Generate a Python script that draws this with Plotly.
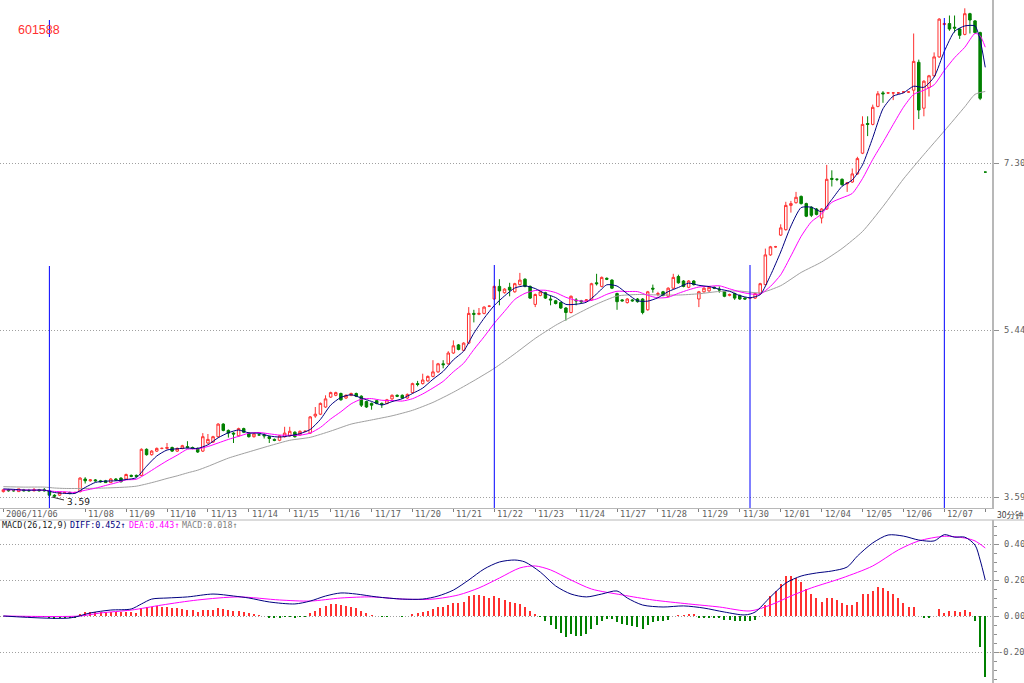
import plotly.graph_objects as go

# ---------------- data (30-minute bars, 601588) ----------------
BARS = list(range(193))

OPEN = [3.65,3.67,3.66,3.65,3.67,3.66,3.66,3.67, 3.67,3.66,3.61,3.61,3.64,3.64,3.64,3.65,
        3.79,3.77,3.78,3.77,3.77,3.75,3.79,3.80, 3.79,3.83,3.83,3.83,4.12,4.06,4.10,4.13,
        4.13,4.14,4.10,4.13,4.15,4.14,4.13,4.10, 4.19,4.20,4.26,4.40,4.33,4.30,4.27,4.35,
        4.30,4.26,4.28,4.28,4.26,4.23,4.22,4.26, 4.27,4.31,4.28,4.32,4.30,4.49,4.51,4.59,
        4.70,4.72,4.74,4.69,4.72,4.74,4.71,4.65, 4.63,4.66,4.63,4.63,4.68,4.72,4.72,4.69,
        4.75,4.85,4.85,4.88,4.93,4.98,5.07,5.07, 5.19,5.28,5.22,5.30,5.63,5.62,5.63,5.71,
        5.79,5.93,5.86,5.92,5.87,5.95,6.01,5.93, 5.73,5.83,5.86,5.79,5.77,5.75,5.69,5.64,
        5.78,5.77,5.77,5.78,5.97,5.93,6.02,6.00, 5.85,5.78,5.75,5.78,5.79,5.79,5.67,5.91,
        5.84,5.87,5.82,5.91,6.04,5.99,5.92,5.99, 5.79,5.87,5.88,5.92,5.90,5.87,5.83,5.85,
        5.83,5.80,5.80,5.80,5.85,5.95,6.28,6.37, 6.50,6.56,6.83,6.86,6.93,6.85,6.81,6.79,
        6.69,6.79,7.13,7.12,7.12,7.07,7.09,7.18, 7.41,7.74,7.73,7.93,8.08,8.08,8.08,8.08,
        8.09,8.09,8.11,8.42,7.91,8.14,8.27,8.48, 8.84,8.85,8.81,8.79,8.73,8.96,8.88,8.75,
        7.20]
HIGH = [3.68,3.68,3.67,3.68,3.68,3.68,3.69,3.68, 3.69,3.67,3.62,3.65,3.65,3.65,3.65,3.81,
        3.81,3.79,3.79,3.78,3.78,3.80,3.80,3.81, 3.85,3.84,3.84,4.13,4.13,4.11,4.14,4.14,
        4.19,4.15,4.14,4.17,4.21,4.15,4.14,4.30, 4.29,4.27,4.41,4.41,4.34,4.31,4.36,4.36,
        4.31,4.30,4.29,4.30,4.27,4.24,4.28,4.37, 4.37,4.32,4.33,4.33,4.49,4.59,4.64,4.72,
        4.76,4.76,4.75,4.73,4.75,4.75,4.72,4.66, 4.64,4.67,4.64,4.68,4.73,4.73,4.73,4.74,
        4.86,4.88,4.96,4.94,5.11,5.08,5.11,5.21, 5.33,5.29,5.31,5.70,5.67,5.69,5.71,5.72,
        5.94,6.01,5.91,5.97,5.97,6.08,6.02,5.94, 5.85,5.88,5.87,5.83,5.78,5.76,5.70,5.83,
        5.80,5.78,5.79,5.97,6.07,6.04,6.03,6.01, 5.86,5.79,5.80,5.79,5.80,5.80,5.88,5.95,
        5.87,5.88,5.92,6.07,6.06,6.00,6.00,6.00, 5.88,5.92,5.93,5.93,5.93,5.88,5.85,5.86,
        5.84,5.81,5.81,5.86,5.97,6.35,6.38,6.38, 6.62,6.87,6.88,6.98,6.94,6.86,6.82,6.80,
        6.80,7.28,7.22,7.13,7.13,7.09,7.24,7.37, 7.82,7.82,7.95,8.10,8.10,8.09,8.09,8.09,
        8.10,8.10,8.74,8.45,8.22,8.28,8.53,8.91, 8.86,8.94,8.94,8.80,9.02,8.97,8.89,8.76,
        7.20]
LOW = [3.64,3.65,3.65,3.65,3.65,3.65,3.65,3.65, 3.65,3.59,3.59,3.60,3.63,3.62,3.63,3.64,
       3.74,3.76,3.76,3.75,3.75,3.75,3.77,3.75, 3.78,3.81,3.81,3.82,4.05,4.05,4.09,4.12,
       4.12,4.09,4.09,4.12,4.13,4.12,4.08,4.09, 4.18,4.19,4.25,4.32,4.25,4.19,4.26,4.30,
       4.25,4.25,4.27,4.24,4.19,4.21,4.21,4.25, 4.26,4.25,4.27,4.31,4.29,4.47,4.50,4.58,
       4.69,4.71,4.66,4.68,4.71,4.70,4.59,4.58, 4.56,4.62,4.58,4.62,4.67,4.70,4.68,4.68,
       4.74,4.82,4.84,4.87,4.92,4.97,5.02,5.06, 5.18,5.22,5.21,5.29,5.53,5.61,5.62,5.70,
       5.78,5.72,5.85,5.82,5.86,5.94,5.92,5.79, 5.70,5.82,5.79,5.72,5.73,5.68,5.55,5.63,
       5.72,5.74,5.76,5.77,5.94,5.92,6.00,5.90, 5.67,5.76,5.74,5.76,5.75,5.62,5.66,5.86,
       5.82,5.82,5.81,5.90,5.96,5.92,5.91,5.94, 5.70,5.86,5.87,5.90,5.86,5.81,5.82,5.78,
       5.78,5.78,5.79,5.79,5.84,5.94,6.27,6.36, 6.49,6.55,6.75,6.85,6.84,6.70,6.70,6.72,
       6.63,6.78,7.04,7.10,7.05,6.98,7.08,7.17, 7.40,7.60,7.72,7.92,7.97,8.07,8.00,8.07,
       8.08,8.08,7.67,7.79,7.82,8.04,8.26,8.47, 8.83,8.77,8.75,8.68,8.72,8.74,8.74,8.00,
       7.20]
CLOSE = [3.67,3.66,3.66,3.68,3.66,3.66,3.67,3.66, 3.66,3.61,3.60,3.64,3.64,3.63,3.64,3.80,
         3.77,3.78,3.77,3.76,3.75,3.79,3.78,3.76, 3.84,3.82,3.82,4.12,4.06,4.10,4.13,4.13,
         4.14,4.10,4.13,4.16,4.14,4.13,4.09,4.26, 4.23,4.26,4.40,4.33,4.30,4.29,4.35,4.31,
         4.26,4.29,4.28,4.27,4.24,4.22,4.27,4.30, 4.32,4.26,4.32,4.32,4.48,4.51,4.63,4.68,
         4.75,4.75,4.67,4.72,4.74,4.71,4.61,4.59, 4.61,4.63,4.62,4.67,4.72,4.71,4.69,4.73,
         4.85,4.84,4.89,4.93,4.98,5.07,5.06,5.19, 5.27,5.23,5.30,5.63,5.62,5.63,5.70,5.71,
         5.93,5.88,5.90,5.89,5.96,6.00,5.93,5.80, 5.84,5.87,5.80,5.78,5.74,5.69,5.64,5.82,
         5.77,5.76,5.78,5.96,5.96,6.03,6.01,5.91, 5.76,5.77,5.79,5.77,5.76,5.64,5.87,5.90,
         5.85,5.83,5.91,6.03,5.97,5.93,5.99,5.95, 5.87,5.91,5.92,5.91,5.89,5.82,5.84,5.80,
         5.79,5.79,5.80,5.85,5.96,6.28,6.37,6.37, 6.58,6.83,6.85,6.92,6.85,6.71,6.72,6.73,
         6.79,7.12,7.12,7.12,7.06,7.08,7.18,7.35, 7.73,7.73,7.92,8.07,8.07,8.08,8.08,8.08,
         8.09,8.09,8.43,7.89,8.21,8.27,8.48,8.90, 8.85,8.79,8.80,8.72,8.96,8.89,8.75,8.02,
         7.20]

# moving-average lines (bar index, value)
MA5_AT = list(range(0, 191, 2)) + [191, 192]
MA5 = [3.68,3.675,3.666,3.666,3.666,3.64,3.63,3.63,3.696,3.752,3.766,3.77,3.784,3.804,3.932,4.046,
       4.112,4.126,4.134,4.13,4.17,4.248,4.304,4.334,4.302,4.298,4.268,4.256,4.27,4.294,4.34,4.452,
       4.611,4.697,4.726,4.69,4.652,4.612,4.65,4.682,4.74,4.80,4.898,4.986,5.114,5.21,5.41,5.576,
       5.718,5.824,5.912,5.936,5.906,5.848,5.806,5.73,5.732,5.754,5.846,5.948,5.934,5.848,5.77,5.766,
       5.804,5.872,5.918,5.966,5.942,5.928,5.90,5.876,5.828,5.804,5.838,6.052,6.312,6.60,6.806,6.81,
       6.76,6.896,7.042,7.112,7.28,7.582,7.904,8.044,8.08,8.154,8.142,8.256,8.542,8.764,8.824,8.824,
       8.668,8.364]
MA10_AT = [0, 4, 8] + list(range(10, 191, 2)) + [191, 192]
MA10 = [3.67,3.668,3.665,3.652,3.648,3.641,3.665,3.688,3.718,3.747,3.78,3.787,3.85,3.922,3.992,4.055,
        4.121,4.125,4.151,4.19,4.23,4.264,4.299,4.307,4.292,4.278,4.276,4.277,4.30,4.363,4.457,4.537,
        4.625,4.677,4.683,4.665,4.662,4.656,4.682,4.735,4.801,4.875,4.981,5.076,5.228,5.37,5.521,5.653,
        5.785,5.853,5.884,5.887,5.861,5.809,5.775,5.765,5.79,5.842,5.876,5.873,5.872,5.831,5.802,5.809,
        5.853,5.892,5.923,5.931,5.937,5.903,5.87,5.847,5.845,5.93,6.059,6.268,6.486,6.648,6.735,6.864,
        6.914,6.963,7.128,7.341,7.531,7.729,7.92,8.064,8.109,8.17,8.329,8.471,8.587,8.741,8.716,8.588]
MA30_AT = [0,4,8,10,12,16,20,24,26,28,30,32,34,36,38,40] + list(range(44, 189, 4)) + [190, 192]
MA30 = [3.705,3.70,3.70,3.69,3.685,3.685,3.69,3.70,3.71,3.735,3.764,3.796,3.825,3.858,3.888,3.93,
        4.022,4.091,4.158,4.22,4.253,4.322,4.40,4.446,4.492,4.553,4.641,4.754,4.882,5.019,5.181,5.352,
        5.498,5.619,5.733,5.823,5.84,5.835,5.834,5.848,5.874,5.878,5.859,5.938,6.085,6.201,6.351,6.54,
        6.818,7.123,7.395,7.657,7.926,8.064,8.096]

# MACD(26,12,9)
DIFF_AT = [0,13,17,21,25,27,29,32,36,41,45,48,52,57,60,63,66,69,73,78,82,85,88,91,94,97,100,102,
           105,108,111,114,117,120,122,125,129,133,137,141,145,147,150,153,156,159,162,165,167,170,
           173,176,179,182,184,186,188,190,191,192]
DIFF = [0.0,-0.011,0.017,0.033,0.039,0.067,0.094,0.10,0.106,0.122,0.111,0.10,0.078,0.067,0.083,0.111,
        0.128,0.122,0.106,0.094,0.094,0.111,0.144,0.20,0.261,0.30,0.311,0.30,0.244,0.167,0.122,0.106,
        0.122,0.139,0.10,0.061,0.05,0.056,0.044,0.022,0.006,0.022,0.106,0.183,0.222,0.239,0.25,0.272,
        0.333,0.406,0.45,0.444,0.422,0.417,0.452,0.438,0.438,0.394,0.311,0.20]
DEA_AT = [0,15,19,25,31,38,46,54,60,66,72,78,84,89,93,97,101,104,107,111,115,121,127,134,140,146,
          150,154,158,164,170,175,179,184,188,190,192]
DEA = [0.0,0.0,0.017,0.033,0.061,0.089,0.106,0.089,0.083,0.10,0.106,0.094,0.094,0.117,0.156,0.211,
       0.267,0.278,0.256,0.20,0.15,0.117,0.089,0.067,0.05,0.028,0.061,0.111,0.156,0.211,0.278,0.367,
       0.417,0.443,0.433,0.417,0.378]
MACD_BAR = [0.0,0.0,-0.002,0.0,-0.003,-0.002,-0.003,-0.003,
            -0.004,-0.01,-0.015,-0.012,-0.012,-0.012,-0.01,0.01,
            0.02,0.025,0.025,0.024,0.022,0.024,0.022,0.02,
            0.022,0.02,0.018,0.045,0.05,0.052,0.055,0.052,
            0.05,0.045,0.042,0.04,0.036,0.032,0.025,0.035,
            0.035,0.035,0.045,0.04,0.035,0.03,0.03,0.025,
            0.015,0.01,0.005,0.0,-0.008,-0.012,-0.01,-0.005,
            -0.002,-0.006,-0.004,-0.004,0.015,0.03,0.045,0.055,
            0.065,0.068,0.06,0.055,0.05,0.042,0.028,0.015,
            0.005,0.0,-0.005,-0.004,0.0,0.0,-0.002,0.0,
            0.012,0.015,0.022,0.03,0.038,0.048,0.05,0.062,
            0.072,0.075,0.08,0.11,0.118,0.115,0.11,0.102,
            0.11,0.1,0.09,0.078,0.07,0.065,0.05,0.03,
            0.01,-0.005,-0.03,-0.05,-0.07,-0.095,-0.115,-0.1,
            -0.11,-0.11,-0.1,-0.07,-0.05,-0.03,-0.015,-0.015,
            -0.035,-0.045,-0.05,-0.055,-0.06,-0.07,-0.05,-0.035,
            -0.03,-0.028,-0.02,0.0,0.005,0.005,0.01,0.008,
            -0.01,-0.01,-0.008,-0.01,-0.012,-0.02,-0.022,-0.028,
            -0.03,-0.03,-0.028,-0.02,0.0,0.06,0.11,0.14,
            0.18,0.22,0.22,0.21,0.19,0.15,0.12,0.1,
            0.08,0.1,0.1,0.09,0.07,0.06,0.06,0.08,
            0.12,0.12,0.14,0.16,0.155,0.14,0.12,0.1,
            0.07,0.05,0.05,0.0,-0.01,-0.01,0.0,0.04,
            0.018,0.03,0.03,0.025,0.035,0.02,-0.03,-0.17,
            -0.34]

DAY_AT = [0,16,24,32,40,48,56,64,72,80,88,96,104,112,120,128,136,144,152,160,168,176,184]
DAY_LABELS = ["2006/11/06","11/08","11/09","11/10","11/13","11/14","11/15","11/16","11/17",
              "11/20","11/21","11/22","11/23","11/24","11/27","11/28","11/29","11/30",
              "12/01","12/04","12/05","12/06","12/07"]
PRICE_TICKS = [3.59, 5.445, 7.30]
PRICE_TICK_TEXT = ["3.59", "5.44", "7.30"]
MACD_TICKS = [0.4, 0.2, 0.0, -0.2]
MACD_TICK_TEXT = ["0.40", "0.20", "0.00", "-0.20"]
CURSOR_BARS = [96, 146, 184]
LOW_MARK_BAR = 9

# ---------------- style / geometry ----------------
W, H = 1024, 683
RED = "#FF3030"
GREEN = "#008000"
NAVY = "#000080"
MAGENTA = "#FF00FF"
GREY_MA = "#A0A0A0"
AXIS = "#B8B8B8"
GRID = "#A0A0A0"
TXT = "#606060"
MONO = "DejaVu Sans Mono"
DOTS = "1px,2px"

PLOT_R = 992      # px, right axis
MAIN_B = 508      # px, bottom of price pane
MACD_T = 520      # px, top of MACD pane


def px_x(p):
    return p / W


def px_y(p):
    return (H - p) / H


# price scale: 3.59 at y=497, 90 px per 1.00
P_TOP = 3.59 + 497 / 90.0
P_BOT = 3.59 - (MAIN_B - 497) / 90.0
# MACD scale: 0 at y=616, 180 px per 1.00
M_TOP = (616 - MACD_T) / 180.0
M_BOT = (616 - H) / 180.0
# bar scale: bar i at 3.36 + 5.114*i px
X_LO = (0 - 3.36) / 5.114
X_HI = (PLOT_R - 3.36) / 5.114

fig = go.Figure()

fig.add_trace(go.Candlestick(
    x=BARS, open=OPEN, high=HIGH, low=LOW, close=CLOSE,
    increasing=dict(line=dict(color=RED, width=1), fillcolor="white"),
    decreasing=dict(line=dict(color=GREEN, width=1), fillcolor=GREEN),
    whiskerwidth=0, showlegend=False, hoverinfo="skip", xaxis="x", yaxis="y"))

for xs, ys, col in [(MA30_AT, MA30, GREY_MA), (MA10_AT, MA10, MAGENTA), (MA5_AT, MA5, NAVY)]:
    fig.add_trace(go.Scatter(x=xs, y=ys, mode="lines", line=dict(color=col, width=1, shape="spline", smoothing=0.6),
                             showlegend=False, hoverinfo="skip", xaxis="x", yaxis="y"))

fig.add_trace(go.Bar(x=BARS, y=MACD_BAR, width=0.2,
                     marker=dict(color=[RED if v > 0 else GREEN for v in MACD_BAR], line=dict(width=0)),
                     showlegend=False, hoverinfo="skip", xaxis="x2", yaxis="y2"))
fig.add_trace(go.Scatter(x=DEA_AT, y=DEA, mode="lines", line=dict(color=MAGENTA, width=1, shape="spline", smoothing=0.8),
                         showlegend=False, hoverinfo="skip", xaxis="x2", yaxis="y2"))
fig.add_trace(go.Scatter(x=DIFF_AT, y=DIFF, mode="lines", line=dict(color=NAVY, width=1, shape="spline", smoothing=0.8),
                         showlegend=False, hoverinfo="skip", xaxis="x2", yaxis="y2"))

shapes = []
# bottom border of the date strip
shapes.append(dict(type="line", xref="paper", yref="paper", x0=0, x1=1, y0=px_y(MACD_T), y1=px_y(MACD_T),
                   line=dict(color=AXIS, width=1)))
# cursor lines
for b in CURSOR_BARS:
    top = 18 if b == 184 else 265
    shapes.append(dict(type="line", xref="x", yref="paper", x0=b, x1=b, y0=px_y(MAIN_B), y1=px_y(top),
                       line=dict(color="#0000FF", width=1)))
shapes.append(dict(type="line", xref="x", yref="paper", x0=LOW_MARK_BAR, x1=LOW_MARK_BAR,
                   y0=px_y(MAIN_B), y1=px_y(266), line=dict(color="#0000FF", width=1)))
shapes.append(dict(type="line", xref="x", yref="paper", x0=LOW_MARK_BAR, x1=LOW_MARK_BAR,
                   y0=px_y(37), y1=px_y(20), line=dict(color="#0000FF", width=1)))
# leader to low label
shapes.append(dict(type="line", xref="paper", yref="paper", x0=px_x(52), x1=px_x(64),
                   y0=px_y(497), y1=px_y(500), line=dict(color="#303030", width=1)))

ann = []
ann.append(dict(text="601588", x=px_x(16), y=px_y(30), xref="paper", yref="paper", xanchor="left",
                yanchor="middle", showarrow=False, font=dict(family="Liberation Sans", size=12.5, color=RED)))
ann.append(dict(text="3.59", x=px_x(65), y=px_y(501), xref="paper", yref="paper", xanchor="left",
                yanchor="middle", showarrow=False, font=dict(family=MONO, size=9.5, color="#202020")))
for b, lab in zip(DAY_AT, DAY_LABELS):
    ann.append(dict(text=lab, x=b, y=px_y(514), xref="x", yref="paper", xanchor="left", xshift=1,
                    yanchor="middle", showarrow=False, font=dict(family=MONO, size=8.6, color=TXT)))
ann.append(dict(text="30分钟", x=px_x(995), y=px_y(514), xref="paper", yref="paper", xanchor="left",
                yanchor="middle", showarrow=False,
                font=dict(family="Noto Sans CJK SC, DejaVu Sans Mono", size=8.5, color="#404040")))
for v, t in zip(PRICE_TICKS, PRICE_TICK_TEXT):
    ann.append(dict(text=t, x=px_x(1002), y=v, xref="paper", yref="y", xanchor="left", yanchor="middle",
                    showarrow=False, font=dict(family=MONO, size=8.8, color=TXT)))
for v, t in zip(MACD_TICKS, MACD_TICK_TEXT):
    ann.append(dict(text=t, x=px_x(1002 if v >= 0 else 996), y=v, xref="paper", yref="y2", xanchor="left",
                    yanchor="middle", showarrow=False, font=dict(family=MONO, size=8.8, color=TXT)))
legend_parts = [("MACD(26,12,9)", 0, "#202020"), ("DIFF:0.452↑", 68, NAVY),
                ("DEA:0.443↑", 127, MAGENTA), ("MACD:0.018↑", 180, "#808080")]
for t, xp, col in legend_parts:
    ann.append(dict(text=t, x=px_x(xp), y=px_y(525), xref="paper", yref="paper", xanchor="left",
                    yanchor="middle", showarrow=False, font=dict(family=MONO, size=8.4, color=col)))

fig.update_layout(
    width=W, height=H, margin=dict(l=0, r=0, t=0, b=0),
    paper_bgcolor="white", plot_bgcolor="white", showlegend=False,
    bargap=0,
    xaxis=dict(domain=[0, px_x(PLOT_R)], range=[X_LO, X_HI], anchor="y",
               showgrid=False, zeroline=False, rangeslider=dict(visible=False),
               showline=True, linecolor=AXIS, linewidth=1,
               ticks="outside", ticklen=3, tickcolor="#808080",
               tickvals=DAY_AT + [192], showticklabels=False),
    yaxis=dict(domain=[px_y(MAIN_B), 1], range=[P_BOT, P_TOP], side="right", anchor="x",
               showgrid=True, gridcolor=GRID, griddash=DOTS, gridwidth=1, zeroline=False,
               showline=True, linecolor=AXIS, linewidth=2,
               ticks="outside", ticklen=5, tickcolor="#909090",
               tickvals=PRICE_TICKS, showticklabels=False),
    xaxis2=dict(domain=[0, px_x(PLOT_R)], range=[X_LO, X_HI], anchor="y2", matches="x",
                showgrid=False, zeroline=False, showline=False, ticks="", showticklabels=False),
    yaxis2=dict(domain=[0, px_y(MACD_T)], range=[M_BOT, M_TOP], side="right", anchor="x2",
                showgrid=True, gridcolor=GRID, griddash=DOTS, gridwidth=1, zeroline=False,
                showline=True, linecolor=AXIS, linewidth=2,
                ticks="outside", ticklen=5, tickcolor="#909090",
                tickvals=MACD_TICKS, showticklabels=False,
                minor=dict(dtick=0.05, ticks="outside", ticklen=3, tickcolor="#909090", showgrid=False)),
    shapes=shapes, annotations=ann,
)

fig.write_html("out.html")
